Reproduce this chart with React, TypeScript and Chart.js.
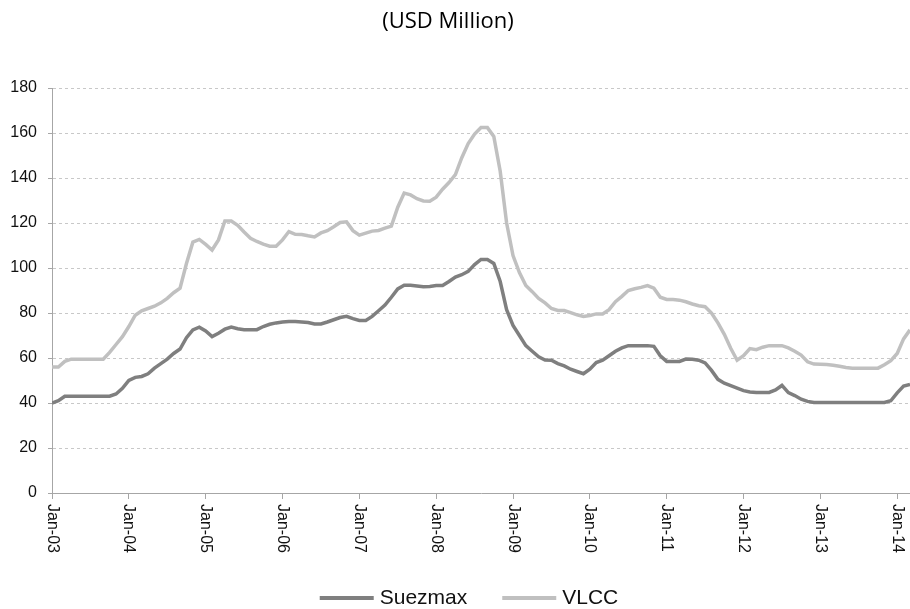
import React, { useEffect, useRef } from "react";
import { Chart, registerables } from "chart.js";

Chart.register(...registerables);

const TITLE = "(USD Million)";
const yearLabels = ["Jan-03", "Jan-04", "Jan-05", "Jan-06", "Jan-07", "Jan-08", "Jan-09", "Jan-10", "Jan-11", "Jan-12", "Jan-13", "Jan-14"];
const seriesNames = ["Suezmax", "VLCC"];
const seriesColors = ["#7f7f7f", "#c0c0c0"];

// monthly values, Jan-03 .. Mar-14
const suezmax = [
  40, 41, 43, 43, 43, 43, 43, 43, 43, 43, 44, 46.5,
  50, 51.4, 51.8, 53, 55.5, 57.5, 59.5, 62, 64, 69, 72.5, 73.7,
  72, 69.5, 71, 72.8, 73.7, 73, 72.6, 72.6, 72.6, 74, 75, 75.6,
  76, 76.2, 76.2, 76, 75.8, 75.1, 75.1, 76, 77, 78, 78.5, 77.5,
  76.7, 76.7, 78.5, 81, 83.5, 87, 90.7, 92.3, 92.3, 92, 91.7, 91.8,
  92.2, 92.2, 94, 96, 97, 98.5, 101.5, 103.8, 103.8, 102, 94, 81.5,
  74.5, 70, 65.5, 63, 60.5, 59.1, 59, 57.5, 56.5, 55, 54, 53,
  55, 58, 59, 61, 63, 64.5, 65.5, 65.5, 65.5, 65.5, 65.2, 61,
  58.5, 58.5, 58.5, 59.5, 59.4, 59, 57.8, 54.5, 50.5, 48.8, 47.7, 46.6,
  45.5, 44.9, 44.7, 44.7, 44.7, 45.8, 47.8, 44.6, 43.3, 41.7, 40.7, 40.2,
  40.2, 40.2, 40.2, 40.2, 40.2, 40.2, 40.2, 40.2, 40.2, 40.2, 40.2, 41,
  44.5, 47.5, 48.2,
];

const vlcc = [
  56, 56, 58.5, 59.5, 59.5, 59.5, 59.5, 59.5, 59.5, 62.5, 66, 69.5,
  74, 79, 81, 82, 83, 84.5, 86.5, 89, 91, 102, 111.5, 112.7,
  110.5, 108, 112.5, 120.9, 120.9, 119, 116, 113.2, 111.8, 110.6, 109.7, 109.7,
  112.5, 116.2, 115, 114.9, 114.3, 113.8, 115.6, 116.6, 118.3, 120.2, 120.5, 116.6,
  114.6, 115.5, 116.4, 116.7, 117.7, 118.6, 127, 133.3, 132.5, 130.8, 129.8, 129.7,
  131.5, 135, 138, 141.5, 149, 155.3, 159.5, 162.4, 162.4, 158.5, 143, 120,
  105.5, 98, 92.2, 89.5, 86.5, 84.5, 82, 81.1, 81.1, 80.2, 79.2, 78.5,
  78.9, 79.6, 79.6, 81.5, 85, 87.4, 90, 90.8, 91.4, 92.2, 91, 87,
  86, 86, 85.7, 85, 84, 83.2, 82.8, 80, 75.6, 70.5, 64.3, 59,
  61, 64.2, 63.7, 64.8, 65.5, 65.5, 65.5, 64.5, 63, 61.3, 58.3, 57.3,
  57.2, 57.1, 56.8, 56.3, 55.8, 55.5, 55.5, 55.5, 55.5, 55.5, 57, 58.8,
  62, 68.5, 72.5,
];

const Y_MIN = 0;
const Y_MAX = 180;
const Y_STEP = 20;
const MONTHS_PER_TICK = 12;

const AXIS_COLOR = "#a6a6a6";
const GRID_COLOR = "#c8c8c8";
const FONT = '"Liberation Sans", Arial, sans-serif';

export default function App() {
  const canvasRef = useRef<HTMLCanvasElement | null>(null);

  useEffect(() => {
    const canvas = canvasRef.current;
    if (!canvas) return;

    const overlay = {
      id: "overlay",
      afterDraw(chart: any) {
        const ctx = chart.ctx as CanvasRenderingContext2D;
        ctx.save();
        // title
        ctx.fillStyle = "#000";
        ctx.font = '22px "Open Sans", sans-serif';
        ctx.textAlign = "center";
        ctx.textBaseline = "middle";
        ctx.fillText(TITLE, 448, 22);

        // rotated x labels (reading top-to-bottom)
        const xs = chart.scales.x;
        ctx.font = `16px ${FONT}`;
        ctx.fillStyle = "#111";
        ctx.textAlign = "left";
        ctx.textBaseline = "middle";
        yearLabels.forEach((lab, i) => {
          const px = xs.getPixelForValue(i * MONTHS_PER_TICK);
          ctx.save();
          ctx.translate(px, xs.top + 11);
          ctx.rotate(Math.PI / 2);
          ctx.fillText(lab, 0, 0);
          ctx.restore();
        });

        // legend
        ctx.font = `21px ${FONT}`;
        const swatch = 54;
        const gap = 6;
        const itemGap = 35;
        const widths = seriesNames.map((n) => ctx.measureText(n).width);
        const total = widths.reduce((a, w) => a + swatch + gap + w, 0) + itemGap * (seriesNames.length - 1);
        let x = 469 - total / 2;
        const ly = 598;
        seriesNames.forEach((n, i) => {
          ctx.strokeStyle = seriesColors[i];
          ctx.lineWidth = 4;
          ctx.beginPath();
          ctx.moveTo(x, ly);
          ctx.lineTo(x + swatch, ly);
          ctx.stroke();
          ctx.fillStyle = "#111";
          ctx.textAlign = "left";
          ctx.fillText(n, x + swatch + gap, ly);
          x += swatch + gap + widths[i] + itemGap;
        });
        ctx.restore();
      },
    };

    const chart = new Chart(canvas, {
      type: "line",
      data: {
        datasets: [
          {
            label: seriesNames[0],
            data: suezmax.map((v, i) => ({ x: i, y: v })),
            borderColor: seriesColors[0],
            borderWidth: 3.5,
            pointRadius: 0,
            tension: 0,
            fill: false,
          },
          {
            label: seriesNames[1],
            data: vlcc.map((v, i) => ({ x: i, y: v })),
            borderColor: seriesColors[1],
            borderWidth: 3.5,
            pointRadius: 0,
            tension: 0,
            fill: false,
          },
        ],
      },
      options: {
        animation: false,
        responsive: true,
        maintainAspectRatio: false,
        layout: { padding: { top: 88, left: 0, right: 0, bottom: 0 } },
        plugins: {
          legend: { display: false },
          title: { display: false },
          tooltip: { enabled: false },
        },
        scales: {
          x: {
            type: "linear",
            min: 0,
            max: suezmax.length - 1,
            afterBuildTicks: (scale: any) => {
              scale.ticks = yearLabels.map((_, i) => ({ value: i * MONTHS_PER_TICK }));
            },
            afterFit: (scale: any) => {
              scale.height = 116;
            },
            ticks: { display: false },
            grid: {
              drawOnChartArea: false,
              drawTicks: true,
              tickLength: 6,
              tickColor: AXIS_COLOR,
              color: AXIS_COLOR,
            },
            border: { display: true, color: AXIS_COLOR, width: 1 },
          },
          y: {
            min: Y_MIN,
            max: Y_MAX,
            afterFit: (scale: any) => {
              scale.width = 52;
            },
            ticks: {
              stepSize: Y_STEP,
              color: "#111",
              padding: 11,
              font: { family: FONT, size: 16 },
            },
            grid: {
              color: (c: any) => (c.tick && c.tick.value === 0 ? "rgba(0,0,0,0)" : GRID_COLOR),
              drawTicks: true,
              tickLength: 4,
              tickColor: AXIS_COLOR,
            },
            border: { display: true, color: AXIS_COLOR, width: 1, dash: [3, 3] },
          },
        },
      },
      plugins: [overlay],
    });

    return () => chart.destroy();
  }, []);

  return (
    <div style={{ position: "fixed", left: 0, top: 0, width: 910, height: 609, background: "#fff" }}>
      <canvas ref={canvasRef} />
    </div>
  );
}
